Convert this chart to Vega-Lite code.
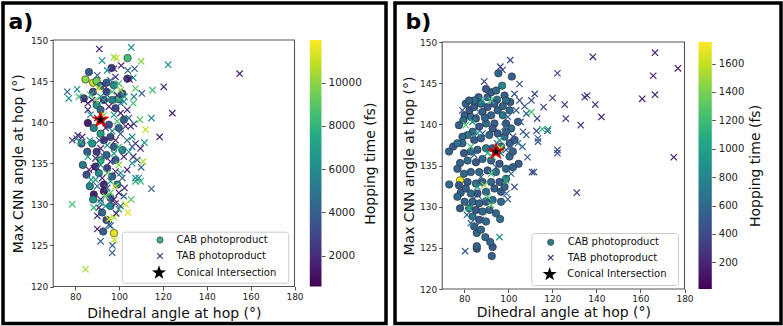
{
  "$schema": "https://vega.github.io/schema/vega-lite/v6.json",
  "padding": {"left": 1, "top": 1, "right": 0, "bottom": 0},
  "spacing": 5,
  "resolve": {"scale": {"fill": "independent", "stroke": "independent", "shape": "independent"}, "legend": {"fill": "independent", "stroke": "independent", "shape": "independent"}},
  "config": {
    "font": "DejaVu Sans",
    "view": {"stroke": "black", "strokeWidth": 3.5},
    "axis": {"grid": false, "domain": false, "tickSize": 3.5, "tickColor": "#222", "tickWidth": 0.8, "labelFontSize": 9, "labelColor": "#222", "labelPadding": 2, "labelFlush": false, "labelOverlap": false, "titleFontSize": 14, "titleFontWeight": "normal", "titleColor": "#111"},
    "legend": {"labelFont": "DejaVu Sans", "titleFont": "DejaVu Sans"}
  },
  "datasets": {
    "aC": [
      {"x":103.9,"y":147.8,"h":8500},{"x":96.6,"y":146.6,"h":2500},{"x":86.3,"y":146.1,"h":3800},{"x":84.7,"y":145.2,"h":10000},{"x":88.2,"y":144.8,"h":11000},{"x":89.8,"y":145.0,"h":9500},{"x":91.6,"y":144.4,"h":6500},{"x":94.3,"y":144.8,"h":4000},{"x":94.3,"y":143.7,"h":2500},{"x":97.7,"y":144.5,"h":6000},{"x":84.0,"y":142.9,"h":3500},{"x":88.2,"y":143.7,"h":3500},{"x":99.6,"y":142.8,"h":8000},{"x":96.9,"y":142.7,"h":5500},{"x":93.1,"y":142.7,"h":2000},{"x":89.8,"y":142.1,"h":6500},{"x":91.6,"y":141.5,"h":4500},{"x":98.4,"y":141.7,"h":3000},{"x":102.2,"y":140.3,"h":4000},{"x":85.8,"y":139.9,"h":1500},{"x":95.4,"y":139.7,"h":3500},{"x":88.5,"y":139.3,"h":6000},{"x":99.9,"y":139.3,"h":4200},{"x":91.6,"y":138.6,"h":7000},{"x":96.1,"y":138.2,"h":3000},{"x":93.1,"y":137.8,"h":2000},{"x":87.8,"y":137.4,"h":6500},{"x":97.7,"y":137.0,"h":3800},{"x":101.5,"y":136.6,"h":5800},{"x":89.8,"y":136.4,"h":2500},{"x":94.3,"y":136.0,"h":4200},{"x":91.6,"y":135.4,"h":8000},{"x":98.4,"y":135.4,"h":4000},{"x":83.5,"y":134.8,"h":5200},{"x":94.6,"y":134.4,"h":2800},{"x":85.2,"y":133.6,"h":3500},{"x":90.8,"y":133.8,"h":6200},{"x":96.9,"y":133.4,"h":4000},{"x":86.7,"y":132.2,"h":6000},{"x":93.1,"y":132.4,"h":1800},{"x":99.2,"y":132.4,"h":5500},{"x":93.1,"y":131.6,"h":1500},{"x":88.5,"y":131.2,"h":1600},{"x":88.2,"y":130.6,"h":6500},{"x":96.1,"y":130.8,"h":4000},{"x":92.3,"y":129.0,"h":4500},{"x":94.3,"y":128.1,"h":3000},{"x":92.8,"y":126.7,"h":4000},{"x":97.7,"y":126.5,"h":11500},{"x":101.5,"y":143.5,"h":3500},{"x":103.8,"y":145.3,"h":2500},{"x":82.9,"y":137.4,"h":4000},{"x":85.5,"y":136.4,"h":3800},{"x":89.3,"y":134.6,"h":2500},{"x":96.1,"y":129.8,"h":6000}
    ],
    "aT": [
      {"x":91.0,"y":148.9,"h":1500},{"x":105.6,"y":149.1,"h":6500},{"x":92.3,"y":147.5,"h":6500},{"x":97.7,"y":147.9,"h":10000},{"x":98.9,"y":147.8,"h":11000},{"x":101.0,"y":146.9,"h":1500},{"x":104.0,"y":146.3,"h":4000},{"x":107.1,"y":146.5,"h":4000},{"x":110.1,"y":147.4,"h":10000},{"x":122.4,"y":147.0,"h":6500},{"x":97.7,"y":146.5,"h":1800},{"x":94.6,"y":146.3,"h":6000},{"x":90.1,"y":145.7,"h":4000},{"x":106.5,"y":145.4,"h":6500},{"x":104.8,"y":145.2,"h":1000},
      {"x":155.0,"y":145.9,"h":1500},{"x":120.4,"y":144.3,"h":2000},{"x":115.3,"y":143.9,"h":8500},{"x":110.4,"y":143.5,"h":4000},{"x":107.5,"y":144.1,"h":9000},{"x":106.8,"y":143.1,"h":6000},{"x":106.5,"y":142.3,"h":8500},{"x":102.5,"y":143.1,"h":7000},{"x":124.3,"y":141.1,"h":1800},{"x":114.8,"y":140.5,"h":6000},{"x":112.1,"y":139.1,"h":11000},{"x":109.5,"y":140.3,"h":9000},{"x":106.8,"y":139.8,"h":3800},{"x":118.5,"y":138.2,"h":1500},{"x":111.6,"y":137.5,"h":6500},{"x":109.8,"y":136.8,"h":1800},{"x":107.5,"y":137.4,"h":2000},{"x":106.0,"y":138.2,"h":6000},{"x":111.0,"y":135.2,"h":10500},{"x":110.1,"y":134.5,"h":4000},{"x":106.5,"y":135.8,"h":2000},{"x":104.5,"y":136.4,"h":6500},{"x":114.8,"y":131.9,"h":4000},{"x":107.5,"y":133.2,"h":6000},{"x":107.5,"y":132.8,"h":8000},{"x":105.6,"y":130.6,"h":9000},{"x":104.0,"y":129.0,"h":11500},{"x":102.2,"y":131.0,"h":4000},{"x":103.0,"y":130.0,"h":11000},{"x":102.5,"y":132.0,"h":2000},{"x":103.7,"y":134.2,"h":1800},{"x":100.7,"y":133.8,"h":6000},
      {"x":76.4,"y":143.7,"h":4000},{"x":77.1,"y":142.9,"h":6500},{"x":80.9,"y":144.0,"h":6500},{"x":81.7,"y":143.1,"h":8500},{"x":84.0,"y":142.7,"h":1500},{"x":81.2,"y":138.4,"h":1500},{"x":78.7,"y":137.8,"h":2000},{"x":80.6,"y":138.0,"h":4000},{"x":82.5,"y":137.6,"h":8000},{"x":83.2,"y":138.2,"h":2000},{"x":78.7,"y":130.0,"h":8500},{"x":84.7,"y":122.1,"h":10500},{"x":85.8,"y":135.8,"h":7000},{"x":86.3,"y":134.2,"h":1800},{"x":87.3,"y":133.0,"h":6500},{"x":90.1,"y":127.0,"h":1500},{"x":90.8,"y":129.6,"h":1800},{"x":91.6,"y":130.6,"h":2000},{"x":90.1,"y":132.2,"h":4000},{"x":89.3,"y":133.0,"h":6500},{"x":86.7,"y":137.8,"h":6500},{"x":87.0,"y":140.9,"h":6000},{"x":90.1,"y":140.5,"h":1800},{"x":85.8,"y":141.5,"h":2000},{"x":85.8,"y":142.3,"h":1500},
      {"x":91.6,"y":125.5,"h":4000},{"x":97.0,"y":125.0,"h":4000},{"x":97.9,"y":125.7,"h":11000},{"x":96.9,"y":124.1,"h":4200},{"x":95.4,"y":128.2,"h":11000},{"x":95.4,"y":127.5,"h":4000},{"x":98.7,"y":128.9,"h":1800},{"x":99.9,"y":129.4,"h":6500},{"x":98.4,"y":130.1,"h":1500},{"x":93.9,"y":129.8,"h":5500},{"x":97.7,"y":128.4,"h":10500},{"x":96.1,"y":131.4,"h":9000},
      {"x":91.6,"y":143.1,"h":6000},{"x":94.6,"y":143.3,"h":4500},{"x":96.9,"y":143.7,"h":8500},{"x":99.2,"y":143.3,"h":2000},{"x":100.7,"y":142.3,"h":4000},{"x":95.4,"y":141.9,"h":1500},{"x":97.7,"y":140.9,"h":6500},{"x":93.1,"y":140.9,"h":10000},{"x":100.7,"y":141.1,"h":1800},{"x":103.7,"y":141.5,"h":2000},{"x":104.5,"y":140.5,"h":4000},{"x":103.0,"y":139.5,"h":1600},{"x":99.2,"y":140.1,"h":8500},{"x":93.9,"y":139.3,"h":1800},{"x":96.9,"y":138.9,"h":6000},{"x":100.7,"y":138.6,"h":3500},{"x":103.7,"y":137.8,"h":4500},{"x":98.4,"y":137.8,"h":1800},{"x":94.6,"y":137.2,"h":6000},{"x":91.0,"y":137.8,"h":4000},{"x":91.6,"y":136.8,"h":1500},{"x":99.9,"y":137.0,"h":8000},{"x":102.2,"y":135.8,"h":2000},{"x":97.7,"y":136.2,"h":7000},{"x":93.1,"y":135.8,"h":3800},{"x":89.3,"y":135.6,"h":1800},{"x":96.1,"y":135.2,"h":2000},{"x":99.9,"y":134.8,"h":10000},{"x":91.6,"y":134.8,"h":6500},{"x":88.5,"y":134.4,"h":1500},{"x":94.6,"y":133.8,"h":8500},{"x":98.4,"y":134.0,"h":2000},{"x":101.5,"y":133.2,"h":4000},{"x":92.3,"y":133.2,"h":1800},{"x":96.1,"y":132.8,"h":6000},{"x":98.4,"y":132.2,"h":11000},{"x":94.6,"y":132.0,"h":4000},{"x":99.9,"y":131.4,"h":1800},{"x":93.9,"y":131.0,"h":9000},{"x":97.7,"y":130.6,"h":1500},{"x":91.6,"y":130.2,"h":6500},{"x":100.7,"y":129.8,"h":4000},{"x":88.5,"y":129.6,"h":8000},{"x":90.1,"y":128.6,"h":1800},{"x":96.1,"y":127.4,"h":4200},{"x":93.1,"y":142.7,"h":7000},{"x":89.3,"y":142.7,"h":9500},{"x":90.8,"y":144.1,"h":11500},{"x":96.1,"y":145.1,"h":4000},{"x":99.9,"y":144.7,"h":8500},{"x":98.4,"y":145.5,"h":1800},{"x":93.1,"y":144.5,"h":2000},{"x":87.8,"y":142.7,"h":1500},{"x":87.0,"y":143.3,"h":8500},{"x":100.7,"y":143.9,"h":10000},{"x":102.2,"y":142.5,"h":6500},{"x":105.3,"y":139.5,"h":1800},{"x":106.0,"y":137.0,"h":4000},{"x":106.0,"y":135.0,"h":6000},{"x":108.3,"y":135.4,"h":3800},{"x":109.0,"y":133.2,"h":6000},{"x":109.8,"y":132.8,"h":8000}
    ],
    "aS": [{"x":91.6,"y":140.3}],
    "aL": [{"x":49.6,"y":151.36,"t":"a)"}],
    "bC": [
      {"x":95.5,"y":146.2,"h":600},{"x":101.6,"y":145.8,"h":550},{"x":97.2,"y":144.7,"h":800},{"x":86.5,"y":143.3,"h":500},{"x":80.2,"y":141.1,"h":550},{"x":82.4,"y":141.7,"h":500},{"x":100.9,"y":142.7,"h":500},{"x":94.9,"y":143.0,"h":650},{"x":104.7,"y":135.2,"h":550},{"x":73.1,"y":136.7,"h":550},{"x":75.0,"y":137.3,"h":500},{"x":73.2,"y":132.7,"h":600},{"x":78.1,"y":133.2,"h":1700},{"x":78.1,"y":135.3,"h":550},{"x":78.1,"y":129.8,"h":500},{"x":80.2,"y":130.6,"h":600},{"x":78.4,"y":131.7,"h":550},{"x":92.5,"y":124.0,"h":550},{"x":92.9,"y":125.1,"h":500},{"x":91.8,"y":125.7,"h":600},{"x":89.6,"y":126.3,"h":600},{"x":85.7,"y":124.9,"h":500},{"x":85.7,"y":125.2,"h":550},{"x":85.7,"y":126.8,"h":600},{"x":96.3,"y":128.5,"h":650},{"x":94.4,"y":129.2,"h":600},
      {"x":80.7,"y":142.5,"h":550},{"x":84.5,"y":142.1,"h":500},{"x":86.3,"y":142.7,"h":600},{"x":83.0,"y":140.9,"h":650},{"x":85.3,"y":140.7,"h":500},{"x":88.3,"y":141.5,"h":550},{"x":90.6,"y":142.1,"h":500},{"x":92.2,"y":141.1,"h":600},{"x":95.2,"y":141.7,"h":550},{"x":97.5,"y":141.1,"h":700},{"x":99.0,"y":140.1,"h":500},{"x":93.7,"y":140.1,"h":550},{"x":89.9,"y":140.1,"h":650},{"x":86.8,"y":139.7,"h":500},{"x":83.8,"y":139.1,"h":600},{"x":81.5,"y":138.7,"h":700},{"x":79.2,"y":138.5,"h":550},{"x":84.5,"y":138.1,"h":500},{"x":87.6,"y":138.3,"h":550},{"x":91.4,"y":138.7,"h":600},{"x":95.2,"y":138.9,"h":500},{"x":98.3,"y":138.5,"h":650},{"x":100.6,"y":137.7,"h":550},{"x":96.7,"y":137.3,"h":600},{"x":92.9,"y":137.1,"h":500},{"x":89.9,"y":137.1,"h":700},{"x":86.0,"y":136.9,"h":550},{"x":83.0,"y":136.7,"h":600},{"x":79.9,"y":136.5,"h":500},{"x":81.5,"y":135.6,"h":650},{"x":85.3,"y":135.4,"h":500},{"x":88.3,"y":135.8,"h":600},{"x":92.2,"y":135.6,"h":550},{"x":96.0,"y":135.2,"h":500},{"x":99.0,"y":134.6,"h":600},{"x":102.1,"y":134.8,"h":550},{"x":94.4,"y":134.2,"h":650},{"x":90.6,"y":134.4,"h":500},{"x":86.8,"y":134.2,"h":600},{"x":83.0,"y":134.2,"h":550},{"x":79.9,"y":134.0,"h":600},{"x":81.5,"y":133.0,"h":500},{"x":85.3,"y":132.8,"h":650},{"x":88.3,"y":133.0,"h":550},{"x":92.2,"y":133.0,"h":600},{"x":96.0,"y":133.0,"h":500},{"x":99.0,"y":133.4,"h":700},{"x":93.7,"y":132.2,"h":550},{"x":89.9,"y":131.8,"h":600},{"x":86.0,"y":131.6,"h":500},{"x":83.0,"y":131.6,"h":650},{"x":80.7,"y":132.2,"h":550},{"x":83.8,"y":130.6,"h":600},{"x":86.8,"y":130.4,"h":550},{"x":89.9,"y":130.6,"h":500},{"x":92.9,"y":130.8,"h":650},{"x":96.7,"y":130.6,"h":600},{"x":85.3,"y":129.6,"h":500},{"x":88.3,"y":129.4,"h":600},{"x":91.4,"y":129.6,"h":550},{"x":83.8,"y":128.8,"h":700},{"x":86.8,"y":128.4,"h":500},{"x":89.9,"y":128.2,"h":600},{"x":84.5,"y":127.6,"h":550},{"x":87.6,"y":127.2,"h":600},{"x":82.2,"y":129.8,"h":650},{"x":90.6,"y":143.3,"h":550},{"x":92.2,"y":143.9,"h":500},{"x":94.5,"y":144.1,"h":600},{"x":98.3,"y":143.5,"h":550},{"x":99.0,"y":142.9,"h":650},{"x":89.9,"y":144.3,"h":500},{"x":84.5,"y":142.9,"h":650},{"x":82.2,"y":142.9,"h":550},{"x":79.6,"y":140.5,"h":600},{"x":77.6,"y":139.9,"h":550},{"x":79.2,"y":137.7,"h":600},{"x":76.9,"y":137.7,"h":650},{"x":76.9,"y":134.6,"h":550},{"x":77.6,"y":132.6,"h":500},{"x":76.9,"y":131.2,"h":600},{"x":96.7,"y":131.8,"h":500},{"x":98.3,"y":132.4,"h":550},{"x":100.6,"y":136.1,"h":600},{"x":102.1,"y":136.7,"h":550},{"x":102.9,"y":138.1,"h":500},{"x":101.3,"y":139.5,"h":650},{"x":99.0,"y":139.1,"h":550},{"x":104.4,"y":140.3,"h":500},{"x":100.6,"y":141.7,"h":600},{"x":97.5,"y":142.2,"h":550},{"x":93.7,"y":142.5,"h":500},{"x":87.6,"y":142.5,"h":600},{"x":89.4,"y":140.8,"h":550},{"x":92.9,"y":139.5,"h":500}
    ],
    "bT": [
      {"x":138.4,"y":148.2,"h":150},{"x":166.6,"y":148.7,"h":200},{"x":177.0,"y":146.8,"h":150},{"x":165.8,"y":145.9,"h":200},{"x":160.8,"y":143.1,"h":180},{"x":166.6,"y":143.6,"h":220},{"x":175.1,"y":136.0,"h":150},{"x":139.5,"y":142.4,"h":250},{"x":142.3,"y":140.9,"h":200},{"x":135.8,"y":143.5,"h":300},{"x":134.7,"y":143.3,"h":280},{"x":132.9,"y":139.9,"h":300},{"x":131.1,"y":131.7,"h":350},{"x":125.6,"y":142.4,"h":300},{"x":120.1,"y":143.2,"h":350},{"x":126.1,"y":140.7,"h":320},{"x":122.3,"y":146.2,"h":350},{"x":122.3,"y":136.9,"h":400},{"x":122.3,"y":136.5,"h":380},{"x":117.8,"y":139.2,"h":450},{"x":118.1,"y":139.4,"h":900},{"x":115.4,"y":139.4,"h":1150},{"x":113.5,"y":138.3,"h":550},{"x":113.5,"y":137.9,"h":500},{"x":112.8,"y":139.2,"h":400},{"x":116.0,"y":142.1,"h":400},{"x":113.1,"y":140.7,"h":350},{"x":112.0,"y":143.7,"h":400},{"x":110.5,"y":142.9,"h":450},{"x":110.5,"y":141.5,"h":1200},{"x":108.7,"y":136.0,"h":500},{"x":110.8,"y":134.2,"h":400},{"x":111.7,"y":134.2,"h":420},{"x":102.8,"y":132.4,"h":450},{"x":99.2,"y":131.6,"h":600},{"x":99.8,"y":130.9,"h":500},{"x":96.0,"y":126.3,"h":900},{"x":80.4,"y":124.6,"h":500},{"x":81.2,"y":129.0,"h":550},
      {"x":100.9,"y":147.8,"h":400},{"x":96.4,"y":147.0,"h":350},{"x":97.4,"y":146.6,"h":400},{"x":89.1,"y":145.2,"h":350},{"x":105.1,"y":144.9,"h":450},{"x":102.8,"y":143.7,"h":500},{"x":107.4,"y":142.2,"h":450},{"x":108.2,"y":141.3,"h":550},{"x":105.6,"y":140.3,"h":500},{"x":106.7,"y":139.1,"h":450},{"x":106.4,"y":137.3,"h":550},{"x":104.4,"y":137.7,"h":650},{"x":108.2,"y":138.7,"h":500},
      {"x":86.8,"y":141.5,"h":500},{"x":88.3,"y":142.9,"h":1000},{"x":92.2,"y":142.9,"h":1200},{"x":79.2,"y":141.7,"h":450},{"x":80.7,"y":139.9,"h":1300},{"x":83.8,"y":140.3,"h":1000},{"x":83.0,"y":137.3,"h":1200},{"x":84.5,"y":136.3,"h":600},{"x":90.6,"y":136.5,"h":1000},{"x":92.9,"y":136.1,"h":1300},{"x":96.7,"y":136.5,"h":650},{"x":94.5,"y":134.8,"h":500},{"x":92.2,"y":134.0,"h":1200},{"x":87.6,"y":133.6,"h":550},{"x":89.1,"y":132.6,"h":1450},{"x":86.0,"y":132.4,"h":950},{"x":90.6,"y":131.2,"h":1250},{"x":92.2,"y":130.2,"h":1300},{"x":88.3,"y":130.8,"h":600},{"x":84.5,"y":131.0,"h":500},{"x":82.2,"y":129.8,"h":1150},{"x":94.9,"y":137.7,"h":600},{"x":98.3,"y":139.7,"h":550},{"x":96.0,"y":138.1,"h":1000},{"x":101.3,"y":137.3,"h":500},{"x":99.0,"y":136.9,"h":550},{"x":96.4,"y":137.1,"h":1600},{"x":101.3,"y":134.0,"h":600},{"x":99.0,"y":133.2,"h":1100},{"x":87.6,"y":128.4,"h":500},{"x":85.3,"y":127.6,"h":550},{"x":83.0,"y":128.0,"h":600},{"x":102.1,"y":138.5,"h":450},{"x":103.6,"y":141.7,"h":500},{"x":105.1,"y":142.9,"h":400},{"x":99.8,"y":140.9,"h":550},{"x":86.0,"y":138.9,"h":900},{"x":88.3,"y":138.9,"h":600}
    ],
    "bS": [{"x":94.4,"y":136.7}],
    "bL": [{"x":53.3,"y":151.6,"t":"b)"}]
  },
  "hconcat": [
    {
      "width": 383,
      "height": 320.5,
      "resolve": {"scale": {"x": "independent", "y": "independent", "shape": "independent"}, "axis": {"x": "independent", "y": "independent"}, "legend": {"shape": "independent"}},
      "layer": [
        {
          "resolve": {"scale": {"shape": "independent"}, "legend": {"shape": "independent"}},
          "layer": [
            {
              "data": {"name": "aC"},
              "mark": {"type": "point", "filled": true, "stroke": "#2a2a2a", "strokeWidth": 0.6, "size": 56, "opacity": 1},
              "encoding": {
                "x": {"field": "x", "type": "quantitative", "scale": {"domain": [70, 180], "range": [50.2, 291.5], "nice": false, "zero": false},
                      "axis": {"title": "Dihedral angle at hop (°)", "values": [80, 100, 120, 140, 160, 180], "offset": -37, "titleY": 26.5, "titleBaseline": "middle"}},
                "y": {"field": "y", "type": "quantitative", "scale": {"domain": [120, 150], "range": [283.5, 37], "nice": false, "zero": false},
                      "axis": {"title": "Max CNN angle at hop (°)", "values": [120, 125, 130, 135, 140, 145, 150], "offset": -50.2, "titleX": -35, "titleBaseline": "middle", "titleAngle": 270}},
                "fill": {"field": "h", "type": "quantitative", "scale": {"scheme": "viridis", "domain": [580, 11970]}, "legend": null},
                "shape": {"datum": "CAB photoproduct", "scale": {"domain": ["CAB photoproduct"], "range": ["circle"]},
                          "legend": {"orient": "none", "legendX": 152, "legendY": 232, "title": null, "padding": 0, "labelFontSize": 10, "labelColor": "#111", "labelOffset": 11.5, "symbolSize": 40, "symbolFillColor": "#4fb07a", "symbolStrokeColor": "#2a2a2a", "symbolStrokeWidth": 0.6, "symbolOpacity": 1}}
              }
            },
            {
              "data": {"name": "aT"},
              "mark": {"type": "point", "filled": false, "strokeWidth": 1.2, "size": 40, "opacity": 1},
              "encoding": {
                "x": {"field": "x", "type": "quantitative"},
                "y": {"field": "y", "type": "quantitative"},
                "stroke": {"field": "h", "type": "quantitative", "scale": {"scheme": "viridis", "domain": [580, 11970]}, "legend": null},
                "shape": {"datum": "TAB photoproduct", "scale": {"domain": ["TAB photoproduct"], "range": ["M-1,-1L1,1M-1,1L1,-1"]},
                          "legend": {"orient": "none", "legendX": 152, "legendY": 248, "title": null, "padding": 0, "labelFontSize": 10, "labelColor": "#111", "labelOffset": 11.5, "symbolSize": 30, "symbolFillColor": "transparent", "symbolStrokeColor": "#46407e", "symbolStrokeWidth": 1.2, "symbolOpacity": 1}}
              }
            },
            {
              "data": {"name": "aS"},
              "mark": {"type": "point", "filled": true, "fill": "black", "stroke": "#e00000", "strokeWidth": 1.5, "size": 210, "opacity": 1},
              "encoding": {
                "x": {"field": "x", "type": "quantitative"},
                "y": {"field": "y", "type": "quantitative"},
                "shape": {"datum": "Conical Intersection", "scale": {"domain": ["Conical Intersection"], "range": ["M0,-1L0.235,-0.324L0.951,-0.309L0.38,0.124L0.588,0.809L0,0.4L-0.588,0.809L-0.38,0.124L-0.951,-0.309L-0.235,-0.324Z"]},
                          "legend": {"orient": "none", "legendX": 147.5, "legendY": 261.2, "title": null, "padding": 0, "labelFontSize": 10, "labelColor": "#111", "labelOffset": 9.5, "symbolSize": 220, "symbolFillColor": "black", "symbolStrokeColor": "#e00000", "symbolStrokeWidth": 1.8, "symbolOpacity": 1}}
              }
            },
            {
              "data": {"values": [{}]},
              "mark": {"type": "rect", "fill": "white", "fillOpacity": 0.85, "stroke": "#cccccc", "strokeWidth": 1, "cornerRadius": 3},
              "encoding": {"x": {"datum": 101.46}, "x2": {"datum": 177.4}, "y": {"datum": 126.61}, "y2": {"datum": 120.4}}
            },
            {
              "data": {"values": [{}]},
              "mark": {"type": "rect", "fillOpacity": 0, "stroke": "#555555", "strokeWidth": 1.1},
              "encoding": {"x": {"datum": 70}, "x2": {"datum": 180}, "y": {"datum": 120}, "y2": {"datum": 150}}
            },
            {
              "data": {"name": "aL"},
              "mark": {"type": "text", "align": "left", "baseline": "alphabetic", "fontSize": 22, "fontWeight": "bold", "color": "black"},
              "encoding": {"x": {"field": "x", "type": "quantitative"}, "y": {"field": "y", "type": "quantitative"}, "text": {"field": "t"}}
            }
          ]
        },
        {
          "data": {"values": [{}]},
          "mark": {"type": "rect", "fill": {"gradient": "linear", "x1": 0, "y1": 1, "x2": 0, "y2": 0, "stops": [
            {"offset": 0, "color": "#440154"}, {"offset": 0.1, "color": "#482475"}, {"offset": 0.2, "color": "#414487"}, {"offset": 0.3, "color": "#355f8d"}, {"offset": 0.4, "color": "#2a788e"}, {"offset": 0.5, "color": "#21918c"}, {"offset": 0.6, "color": "#22a884"}, {"offset": 0.7, "color": "#44bf70"}, {"offset": 0.8, "color": "#7ad151"}, {"offset": 0.9, "color": "#bddf26"}, {"offset": 1, "color": "#fde725"}]}},
          "encoding": {
            "x": {"datum": 0, "type": "quantitative", "scale": {"domain": [0, 1], "range": [306.8, 318.5]}, "axis": null},
            "x2": {"datum": 1},
            "y": {"datum": 580, "type": "quantitative", "scale": {"domain": [580, 11970], "range": [283.5, 37], "nice": false, "zero": false},
                  "axis": {"orient": "right", "title": "Hopping time (fs)", "values": [2000, 4000, 6000, 8000, 10000], "format": "d", "labelFontSize": 10.5, "labelPadding": 3, "tickSize": 3.5, "domain": false, "grid": false, "offset": -64.5, "titleX": 49, "titleAngle": 270, "titleBaseline": "middle", "titleFontSize": 14}},
            "y2": {"datum": 11970}
          }
        }
      ]
    },
    {
      "width": 386,
      "height": 320.5,
      "resolve": {"scale": {"x": "independent", "y": "independent", "shape": "independent"}, "axis": {"x": "independent", "y": "independent"}, "legend": {"shape": "independent"}},
      "layer": [
        {
          "resolve": {"scale": {"shape": "independent"}, "legend": {"shape": "independent"}},
          "layer": [
            {
              "data": {"name": "bC"},
              "mark": {"type": "point", "filled": true, "stroke": "#2a2a2a", "strokeWidth": 0.6, "size": 56, "opacity": 1},
              "encoding": {
                "x": {"field": "x", "type": "quantitative", "scale": {"domain": [70, 180], "range": [47.2, 289.5], "nice": false, "zero": false},
                      "axis": {"title": "Dihedral angle at hop (°)", "values": [80, 100, 120, 140, 160, 180], "offset": -34.5, "titleY": 23.8, "titleBaseline": "middle"}},
                "y": {"field": "y", "type": "quantitative", "scale": {"domain": [120, 150], "range": [286, 39], "nice": false, "zero": false},
                      "axis": {"title": "Max CNN angle at hop (°)", "values": [120, 125, 130, 135, 140, 145, 150], "offset": -47.2, "titleX": -33, "titleBaseline": "middle", "titleAngle": 270}},
                "fill": {"field": "h", "type": "quantitative", "scale": {"scheme": "viridis", "domain": [12, 1752]}, "legend": null},
                "shape": {"datum": "CAB photoproduct", "scale": {"domain": ["CAB photoproduct"], "range": ["circle"]},
                          "legend": {"orient": "none", "legendX": 150.7, "legendY": 234.3, "title": null, "padding": 0, "labelFontSize": 10, "labelColor": "#111", "labelOffset": 12, "symbolSize": 40, "symbolFillColor": "#2c7a8c", "symbolStrokeColor": "#2a2a2a", "symbolStrokeWidth": 0.6, "symbolOpacity": 1}}
              }
            },
            {
              "data": {"name": "bT"},
              "mark": {"type": "point", "filled": false, "strokeWidth": 1.2, "size": 40, "opacity": 1},
              "encoding": {
                "x": {"field": "x", "type": "quantitative"},
                "y": {"field": "y", "type": "quantitative"},
                "stroke": {"field": "h", "type": "quantitative", "scale": {"scheme": "viridis", "domain": [12, 1752]}, "legend": null},
                "shape": {"datum": "TAB photoproduct", "scale": {"domain": ["TAB photoproduct"], "range": ["M-1,-1L1,1M-1,1L1,-1"]},
                          "legend": {"orient": "none", "legendX": 150.7, "legendY": 249.7, "title": null, "padding": 0, "labelFontSize": 10, "labelColor": "#111", "labelOffset": 12, "symbolSize": 30, "symbolFillColor": "transparent", "symbolStrokeColor": "#463b80", "symbolStrokeWidth": 1.2, "symbolOpacity": 1}}
              }
            },
            {
              "data": {"name": "bS"},
              "mark": {"type": "point", "filled": true, "fill": "black", "stroke": "#e00000", "strokeWidth": 1.5, "size": 210, "opacity": 1},
              "encoding": {
                "x": {"field": "x", "type": "quantitative"},
                "y": {"field": "y", "type": "quantitative"},
                "shape": {"datum": "Conical Intersection", "scale": {"domain": ["Conical Intersection"], "range": ["M0,-1L0.235,-0.324L0.951,-0.309L0.38,0.124L0.588,0.809L0,0.4L-0.588,0.809L-0.38,0.124L-0.951,-0.309L-0.235,-0.324Z"]},
                          "legend": {"orient": "none", "legendX": 146.2, "legendY": 262.8, "title": null, "padding": 0, "labelFontSize": 10, "labelColor": "#111", "labelOffset": 9, "symbolSize": 220, "symbolFillColor": "black", "symbolStrokeColor": "#e00000", "symbolStrokeWidth": 1.8, "symbolOpacity": 1}}
              }
            },
            {
              "data": {"values": [{}]},
              "mark": {"type": "rect", "fill": "white", "fillOpacity": 0.85, "stroke": "#cccccc", "strokeWidth": 1, "cornerRadius": 3},
              "encoding": {"x": {"datum": 110.68}, "x2": {"datum": 177.28}, "y": {"datum": 126.74}, "y2": {"datum": 120.42}}
            },
            {
              "data": {"values": [{}]},
              "mark": {"type": "rect", "fillOpacity": 0, "stroke": "#555555", "strokeWidth": 1.1},
              "encoding": {"x": {"datum": 70}, "x2": {"datum": 180}, "y": {"datum": 120}, "y2": {"datum": 150}}
            },
            {
              "data": {"name": "bL"},
              "mark": {"type": "text", "align": "left", "baseline": "alphabetic", "fontSize": 22, "fontWeight": "bold", "color": "black"},
              "encoding": {"x": {"field": "x", "type": "quantitative"}, "y": {"field": "y", "type": "quantitative"}, "text": {"field": "t"}}
            }
          ]
        },
        {
          "data": {"values": [{}]},
          "mark": {"type": "rect", "fill": {"gradient": "linear", "x1": 0, "y1": 1, "x2": 0, "y2": 0, "stops": [
            {"offset": 0, "color": "#440154"}, {"offset": 0.1, "color": "#482475"}, {"offset": 0.2, "color": "#414487"}, {"offset": 0.3, "color": "#355f8d"}, {"offset": 0.4, "color": "#2a788e"}, {"offset": 0.5, "color": "#21918c"}, {"offset": 0.6, "color": "#22a884"}, {"offset": 0.7, "color": "#44bf70"}, {"offset": 0.8, "color": "#7ad151"}, {"offset": 0.9, "color": "#bddf26"}, {"offset": 1, "color": "#fde725"}]}},
          "encoding": {
            "x": {"datum": 0, "type": "quantitative", "scale": {"domain": [0, 1], "range": [303.5, 316.8]}, "axis": null},
            "x2": {"datum": 1},
            "y": {"datum": 12, "type": "quantitative", "scale": {"domain": [12, 1752], "range": [286, 39], "nice": false, "zero": false},
                  "axis": {"orient": "right", "title": "Hopping time (fs)", "values": [200, 400, 600, 800, 1000, 1200, 1400, 1600], "format": "d", "labelFontSize": 10, "labelPadding": 3, "tickSize": 3.5, "domain": false, "grid": false, "offset": -69.2, "titleX": 43.7, "titleAngle": 270, "titleBaseline": "middle", "titleFontSize": 14}},
            "y2": {"datum": 1752}
          }
        }
      ]
    }
  ]
}
